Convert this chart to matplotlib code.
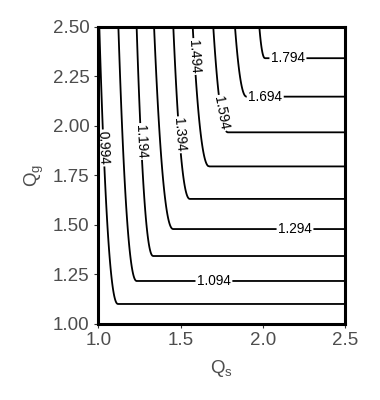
import numpy as np
import matplotlib
matplotlib.use("Agg")
import matplotlib.pyplot as plt

plt.rcParams['font.family'] = ['Liberation Sans', 'DejaVu Sans']

# ---- data ----
levels = [0.994, 1.094, 1.194, 1.294, 1.394, 1.494, 1.594, 1.694, 1.794]
# Qs where each contour meets the top edge (Qg = 2.5)
qs_top = [1.006, 1.122, 1.233, 1.339, 1.456, 1.574, 1.699, 1.831, 1.979]
# corner of each contour (Qs, Qg); the horizontal branch sits at qg_corner
qs_corner = [1.120, 1.234, 1.334, 1.456, 1.557, 1.675, 1.789, 1.902, 2.014]
qg_corner = [1.101, 1.217, 1.343, 1.479, 1.631, 1.795, 1.967, 2.147, 2.341]

xticks = [1.0, 1.5, 2.0, 2.5]
xticklabels = ['1.0', '1.5', '2.0', '2.5']
yticks = [1.00, 1.25, 1.50, 1.75, 2.00, 2.25, 2.50]
yticklabels = ['1.00', '1.25', '1.50', '1.75', '2.00', '2.25', '2.50']

# label placement (near points, data coords)
label_points = [(1.03, 1.888), (1.703, 1.223), (1.264, 1.921), (2.196, 1.484),
                (1.501, 1.955), (1.594, 2.35), (1.76, 2.065), (2.015, 2.147),
                (2.153, 2.341)]

# ---- build a field whose contours follow the read geometry ----
lv = np.array(levels)
qt = np.array(qs_top)
qc = np.array(qs_corner)
gc = np.array(qg_corner)
bend = 0.45
QMAX = 2.5

def extend(pos, vals):
    p = np.r_[pos[0] - 10 * (pos[1] - pos[0]), pos, pos[-1] + 10 * (pos[-1] - pos[-2])]
    v = np.r_[vals[0] - 10 * (vals[1] - vals[0]), vals, vals[-1] + 10 * (vals[-1] - vals[-2])]
    return p, v

qs = np.linspace(1.0, 2.5, 801)
qg = np.linspace(1.0, 2.5, 801)
S, G = np.meshgrid(qs, qg)
U = np.empty_like(S)
for j, g in enumerate(qg):
    t = np.clip((g - gc) / (QMAX - gc), 0, 1)
    pos = qc - (qc - qt) * t ** bend
    p, v = extend(pos, lv)
    U[j, :] = np.interp(qs, p, v)
pv, vv = extend(gc, lv)
V = np.interp(qg, pv, vv)
Z = np.minimum(U, V[:, None])

# ---- plot ----
fig = plt.figure(figsize=(3.8, 4.0), dpi=100)
ax = fig.add_axes([0.2587, 0.19, 0.6492, 0.7433])
cs = ax.contour(S, G, Z, levels=levels, colors='black', linewidths=1.3)
ax.clabel(cs, manual=label_points, inline=True, inline_spacing=1.5,
          fontsize=9.8, fmt='%.3f')

ax.set_xlim(1.0, 2.5)
ax.set_ylim(1.0, 2.5)
ax.set_xticks(xticks)
ax.set_xticklabels(xticklabels)
ax.set_yticks(yticks)
ax.set_yticklabels(yticklabels)
ax.tick_params(axis='both', labelsize=13.5, labelcolor='#4d4d4d',
               color='#333333', length=3, width=0.8, direction='out')
ax.tick_params(axis='x', pad=2.5)
ax.tick_params(axis='y', pad=3.5)
for sp in ax.spines.values():
    sp.set_color('black')
    sp.set_linewidth(2.2)

ax.set_xlabel(r'$\mathregular{Q_s}$', fontsize=13.5, color='#4d4d4d', labelpad=6.5)
ax.set_ylabel(r'$\mathregular{Q_g}$', fontsize=13.5, color='#4d4d4d', labelpad=5)

fig.savefig('out.png', dpi=100)
